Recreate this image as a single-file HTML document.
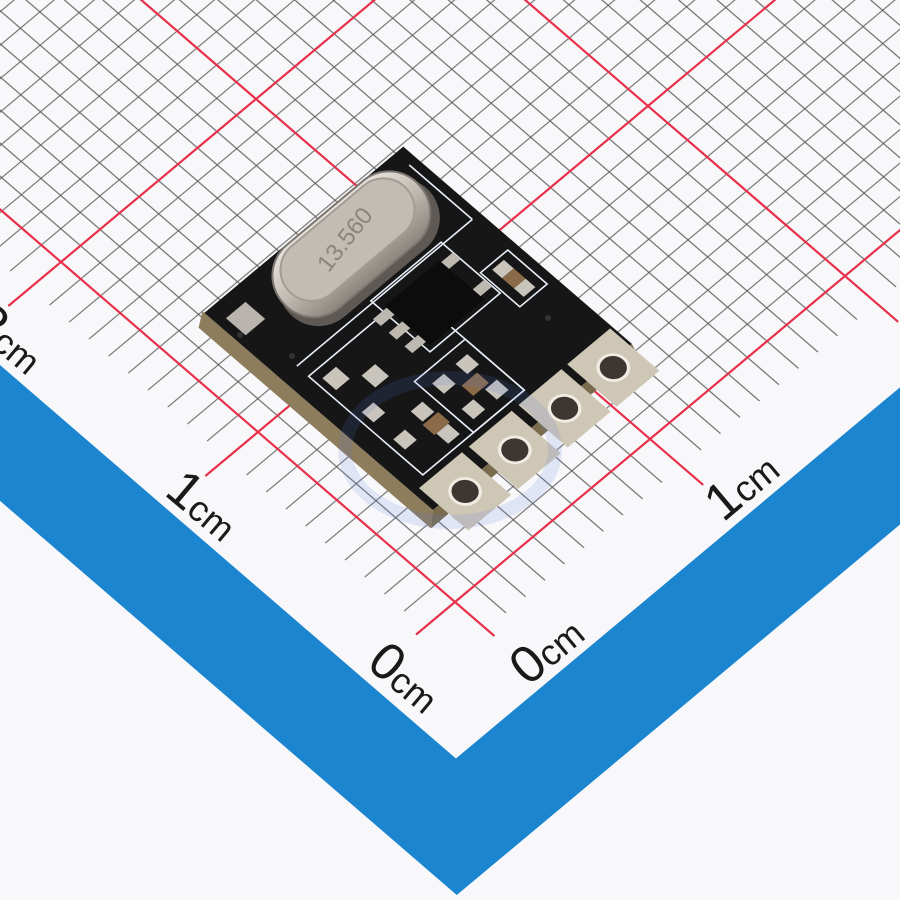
<!DOCTYPE html>
<html><head><meta charset="utf-8"><style>
html,body{margin:0;padding:0;background:#f8f8fa;}
svg{display:block;}
text{font-family:"Liberation Sans",sans-serif;fill:#1a1a1a;}
</style></head><body>
<svg width="900" height="900" viewBox="0 0 900 900" xmlns="http://www.w3.org/2000/svg">
<defs>
<pattern id="g" patternUnits="userSpaceOnUse" x="0.5" y="0.5" width="1" height="1">
<path d="M0.5,0 V1 M0,0.5 H1" stroke="#5a5a5a" stroke-width="0.042" fill="none"/>
</pattern>
<pattern id="gh" patternUnits="userSpaceOnUse" x="0.5" y="0.5" width="1" height="1">
<path d="M0,0.5 H1" stroke="#5a5a5a" stroke-width="0.042" fill="none"/>
</pattern>
<pattern id="gv" patternUnits="userSpaceOnUse" x="0.5" y="0.5" width="1" height="1">
<path d="M0.5,0 V1" stroke="#5a5a5a" stroke-width="0.042" fill="none"/>
</pattern>
<linearGradient id="cr" x1="0" y1="0" x2="0" y2="1">
<stop offset="0" stop-color="#e6e2dd"/><stop offset="0.5" stop-color="#c2bbb3"/><stop offset="1" stop-color="#8c857e"/>
</linearGradient>
</defs>
<rect width="900" height="900" fill="#f8f8fa"/>
<g transform="matrix(19.5,-16.3,-19.7,-17,455,602)">
  <polygon points="-8.8,60 -8.8,-8.8 60,-8.8 60,-4.7 -4.7,-4.7 -4.7,60" fill="#1b85cf"/>
  <rect x="0" y="0" width="45" height="45" fill="url(#g)"/>
  <rect x="-1.6" y="0" width="1.6" height="45" fill="url(#gh)"/>
  <rect x="0" y="-1.6" width="45" height="1.6" fill="url(#gv)"/>
  <g stroke="#e8304a" stroke-width="2.2" fill="none">
    <path vector-effect="non-scaling-stroke" d="M0,-2 V45 M10,-2.7 V45 M20,-2.7 V45 M30,-2.7 V45 M-2,0 H45 M-2.7,10 H45 M-2.7,20 H45 M-2.7,30 H45"/>
  </g>
  <!-- PCB -->
  <polygon points="1.6,2.8 1.6,14.6 2.2,15 2.2,3.3" fill="#8d7d5c"/>
  <polygon points="1.6,2.8 2.2,3.3 12.4,3.3 12.2,2.8" fill="#7a6b4c"/>
  <polygon points="2.2,3.3 2.2,14.9 12.4,14.9 12.4,3.3" fill="#161616"/>
  <g fill="none" stroke="#e8eef8" stroke-width="1.6">
    <rect vector-effect="non-scaling-stroke" x="3" y="4.6" width="5.2" height="5.8"/>
    <rect vector-effect="non-scaling-stroke" x="5.6" y="4.6" width="2.6" height="3"/>
    <rect vector-effect="non-scaling-stroke" x="10.6" y="7.2" width="1.4" height="2"/>
    <rect vector-effect="non-scaling-stroke" x="6.9" y="8.1" width="3.6" height="3"/>
    <path vector-effect="non-scaling-stroke" d="M3,11 H12 M12,11 V14.2"/>
  </g>
  <g fill="#c9c4bc">
    <rect x="3.3" y="9.3" width="0.7" height="0.7"/>
    <rect x="4.4" y="8.4" width="0.7" height="0.7"/>
    <rect x="3.3" y="7.4" width="0.6" height="0.6"/>
    <rect x="3.3" y="5.8" width="0.6" height="0.6"/>
    <rect x="4.6" y="6.2" width="0.6" height="0.6"/>
    <rect x="4.6" y="4.9" width="0.6" height="0.6"/>
    <rect x="6" y="6.5" width="0.6" height="0.6"/>
    <rect x="7.2" y="6.5" width="0.6" height="0.6"/>
    <rect x="6" y="5" width="0.6" height="0.6"/>
    <rect x="7.2" y="5" width="0.6" height="0.6"/>
    <rect x="11" y="7.4" width="0.6" height="0.5"/>
    <rect x="11" y="8.5" width="0.6" height="0.5"/>
    <rect x="2.6" y="13.2" width="1" height="1" fill="#b9b4ad"/>
  </g>
  <g fill="#8a6a48"><rect x="6.7" y="5.7" width="0.8" height="0.6"/><rect x="11" y="7.9" width="0.6" height="0.6"/><rect x="4.5" y="5.5" width="0.8" height="0.6"/></g>
  <rect x="7.1" y="8.3" width="2.8" height="2.3" fill="#0c0c0c"/>
  <g fill="#bdb8b0">
    <rect x="6.4" y="8.5" width="0.7" height="0.4"/><rect x="6.4" y="9.3" width="0.7" height="0.4"/><rect x="6.4" y="10.1" width="0.7" height="0.4"/>
    <rect x="9.9" y="8.5" width="0.6" height="0.4"/><rect x="9.9" y="10.1" width="0.6" height="0.4"/>
  </g>
  <g>
    <rect x="2.5" y="1.8" width="2.2" height="2.5" fill="#cfc7b6"/>
    <rect x="5.05" y="1.8" width="2.2" height="2.5" fill="#cfc7b6"/>
    <rect x="7.6" y="1.8" width="2.2" height="2.5" fill="#cfc7b6"/>
    <rect x="10.1" y="1.8" width="2.2" height="2.5" fill="#cfc7b6"/>
    <circle cx="3.6" cy="3.05" r="0.55" fill="#3c3731" stroke="#f0ece4" stroke-width="0.12"/>
    <circle cx="6.15" cy="3.05" r="0.55" fill="#3c3731" stroke="#f0ece4" stroke-width="0.12"/>
    <circle cx="8.7" cy="3.05" r="0.55" fill="#3c3731" stroke="#f0ece4" stroke-width="0.12"/>
    <circle cx="11.2" cy="3.05" r="0.55" fill="#3c3731" stroke="#f0ece4" stroke-width="0.12"/>
  </g>
</g>
<ellipse cx="450" cy="450" rx="105" ry="72" fill="none" stroke="rgba(90,120,220,0.15)" stroke-width="14"/>
<circle cx="548" cy="318" r="3" fill="#333"/><circle cx="292" cy="356" r="3" fill="#333"/><circle cx="240" cy="335" r="3" fill="#333"/>
<g transform="translate(352,245) rotate(-40)">
  <rect x="-92" y="-30" width="186" height="80" rx="40" fill="#5e5955"/>
  <rect x="-90" y="-42" width="180" height="82" rx="40" fill="url(#cr)" stroke="#7d7670" stroke-width="2"/>
  <rect x="-78" y="-38" width="156" height="62" rx="31" fill="#c3bcb4" stroke="#a39c94" stroke-width="2"/>
  <text x="0" y="-1" font-size="24" text-anchor="middle" transform="rotate(-12)" style="fill:#8c857e">13.560</text>
</g>
<text transform="translate(365,666) rotate(40)"><tspan font-size="52">0</tspan><tspan font-size="36">cm</tspan></text>
<text transform="translate(528,687) rotate(-40)"><tspan font-size="52">0</tspan><tspan font-size="36">cm</tspan></text>
<text transform="translate(163,494) rotate(40)"><tspan font-size="52">1</tspan><tspan font-size="36">cm</tspan></text>
<text transform="translate(723,523) rotate(-40)"><tspan font-size="52">1</tspan><tspan font-size="36">cm</tspan></text>
<text transform="translate(-32,327) rotate(40)"><tspan font-size="52">2</tspan><tspan font-size="36">cm</tspan></text>
<text transform="translate(920,362) rotate(-40)"><tspan font-size="52">2</tspan><tspan font-size="36">cm</tspan></text>
</svg>
</body></html>
